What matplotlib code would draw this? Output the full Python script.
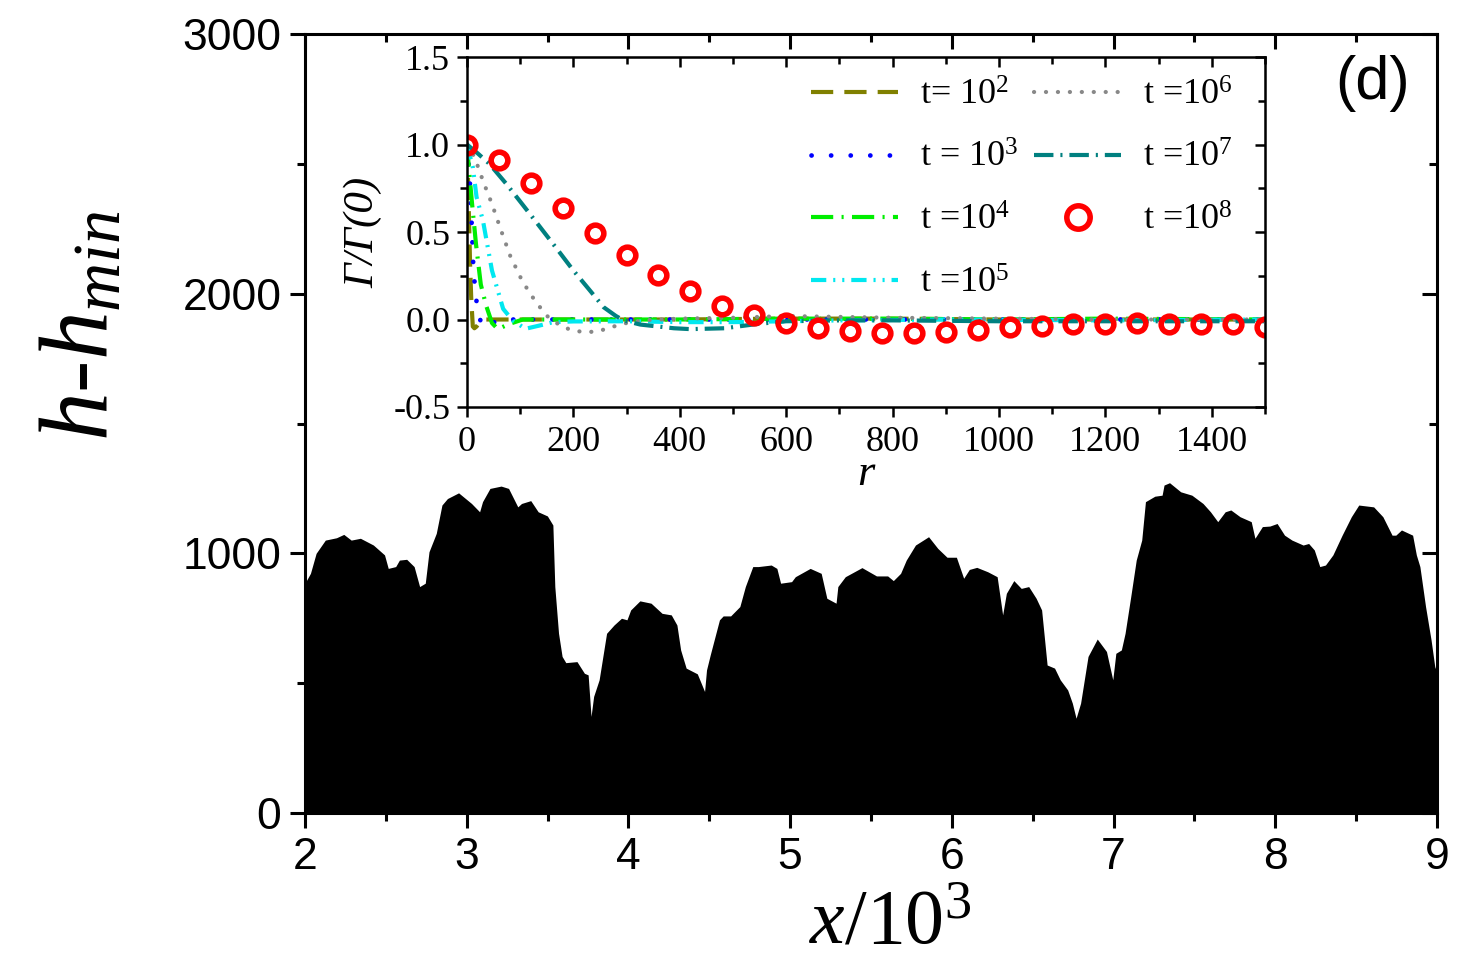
import numpy as np
import matplotlib
matplotlib.use("Agg")
import matplotlib.pyplot as plt
from matplotlib.ticker import MultipleLocator

plt.rcParams['font.family'] = ['Liberation Sans', 'DejaVu Sans']
plt.rcParams['mathtext.fontset'] = 'custom'
plt.rcParams['mathtext.rm'] = 'Liberation Serif'
plt.rcParams['mathtext.it'] = 'Liberation Serif:italic'
plt.rcParams['lines.scale_dashes'] = False

# surface profile h - h_min against x/10^3
x_prof = [2.0, 2.034, 2.069, 2.126, 2.195, 2.24, 2.286, 2.343, 2.423, 2.492, 2.515, 2.561,
          2.584, 2.629, 2.675, 2.709, 2.744, 2.767, 2.812, 2.847, 2.881, 2.95, 3.03, 3.08,
          3.098, 3.144, 3.213, 3.259, 3.316, 3.339, 3.396, 3.442, 3.499, 3.533, 3.545, 3.568,
          3.59, 3.613, 3.682, 3.728, 3.751, 3.769, 3.785, 3.819, 3.865, 3.911, 3.957, 3.991,
          4.014, 4.071, 4.14, 4.208, 4.265, 4.3, 4.323, 4.357, 4.426, 4.471, 4.483, 4.506,
          4.563, 4.586, 4.632, 4.689, 4.723, 4.769, 4.803, 4.883, 4.918, 4.941, 5.009, 5.032,
          5.124, 5.192, 5.227, 5.284, 5.295, 5.341, 5.444, 5.534, 5.603, 5.638, 5.683, 5.718,
          5.775, 5.856, 5.913, 5.97, 6.028, 6.073, 6.108, 6.154, 6.222, 6.28, 6.314, 6.337,
          6.383, 6.429, 6.475, 6.521, 6.555, 6.589, 6.635, 6.67, 6.716, 6.745, 6.768, 6.796,
          6.842, 6.899, 6.956, 6.995, 7.014, 7.048, 7.071, 7.106, 7.14, 7.174, 7.197, 7.255,
          7.3, 7.312, 7.346, 7.415, 7.484, 7.553, 7.599, 7.644, 7.69, 7.725, 7.782, 7.851,
          7.874, 7.92, 7.966, 8.011, 8.057, 8.103, 8.172, 8.206, 8.241, 8.275, 8.31, 8.356,
          8.413, 8.47, 8.516, 8.608, 8.665, 8.722, 8.745, 8.78, 8.849, 8.872, 8.894, 8.929,
          8.963, 8.986, 9.0]
h_prof = [885, 923, 1000, 1051, 1060, 1073, 1051, 1058, 1032, 994, 942, 949,
          974, 977, 949, 872, 885, 1006, 1077, 1186, 1211, 1233, 1192, 1160,
          1199, 1250, 1259, 1250, 1179, 1192, 1203, 1160, 1144, 1109, 872, 692,
          603, 579, 583, 538, 532, 372, 449, 513, 692, 724, 750, 744,
          782, 817, 808, 769, 763, 724, 628, 558, 536, 468, 551, 609,
          744, 759, 759, 795, 872, 949, 949, 955, 942, 885, 891, 910,
          942, 923, 827, 808, 872, 910, 945, 913, 913, 895, 923, 974,
          1032, 1064, 1019, 985, 985, 904, 938, 946, 929, 910, 763, 846,
          895, 865, 872, 827, 782, 570, 558, 513, 474, 423, 365, 423,
          603, 670, 622, 513, 615, 628, 692, 833, 974, 1051, 1199, 1220,
          1224, 1263, 1272, 1237, 1224, 1192, 1160, 1122, 1160, 1167, 1141, 1122,
          1058, 1103, 1105, 1115, 1070, 1051, 1032, 1038, 1013, 949, 955, 994,
          1070, 1141, 1186, 1179, 1141, 1070, 1070, 1090, 1070, 994, 949, 795,
          667, 564, 540]

# inset: correlation function Gamma/Gamma(0) against r
r_t2 = [0, 2, 4, 6, 8, 11, 14, 18, 25, 35, 60, 100, 200, 400, 600, 800, 1000, 1200, 1500]
g_t2 = [1.0, 0.8, 0.55, 0.3, 0.12, -0.04, -0.05, -0.04, -0.01, 0.0, 0.0, 0.0, 0.0, 0.0,
        0.005, 0.005, 0.0, 0.0, 0.0]
r_t3 = [0, 3, 6, 9, 12, 16, 20, 28, 42, 66, 100, 200, 400, 600, 800, 1000, 1200, 1500]
g_t3 = [1.0, 0.89, 0.756, 0.537, 0.3, 0.147, 0.06, -0.04, -0.025, 0.0, 0.0, 0.0, 0.0,
        0.0, 0.0, 0.0, 0.0, 0.0]
r_t4 = [0, 4, 9, 17, 26, 36, 47, 58, 80, 105, 200, 400, 600, 800, 1000, 1200, 1500]
g_t4 = [1.0, 0.85, 0.68, 0.43, 0.2, 0.08, -0.02, -0.055, -0.025, 0.0, 0.0, 0.0, 0.005,
        0.005, 0.0, 0.005, 0.0]
r_t5 = [0, 11, 18, 30, 47, 68, 86, 110, 137, 162, 200, 300, 400, 500, 600, 700, 900,
        1200, 1500]
g_t5 = [1.0, 0.87, 0.7, 0.566, 0.28, 0.061, -0.006, -0.053, -0.034, -0.015, -0.011,
        -0.01, -0.015, -0.015, -0.01, -0.005, 0.0, -0.005, 0.0]
r_t6 = [0, 14, 31, 47, 64, 81, 102, 117, 132, 151, 175, 198, 222, 244, 268, 291, 330,
        400, 500, 600, 800, 1000, 1200, 1500]
g_t6 = [1.0, 0.93, 0.785, 0.66, 0.51, 0.366, 0.232, 0.156, 0.09, 0.019, -0.034, -0.063,
        -0.072, -0.069, -0.048, -0.025, -0.005, 0.005, 0.01, 0.02, 0.01, 0.005, 0.0, 0.0]
r_t7 = [0, 20, 42, 74, 105, 137, 170, 200, 230, 257, 280, 295, 326, 389, 420, 484, 547,
        600, 700, 800, 1000, 1200, 1500]
g_t7 = [1.0, 0.95, 0.89, 0.775, 0.655, 0.53, 0.4, 0.28, 0.17, 0.07, 0.02, -0.006, -0.029,
        -0.05, -0.055, -0.05, -0.025, -0.01, -0.005, -0.005, -0.01, -0.01, -0.01]
r_t8 = [0, 60, 120, 180, 240, 300, 360, 420, 480, 540, 600, 660, 720, 780, 840, 900, 960,
        1020, 1080, 1140, 1200, 1260, 1320, 1380, 1440, 1500]
g_t8 = [1.0, 0.912, 0.779, 0.638, 0.497, 0.37, 0.255, 0.162, 0.08, 0.023, -0.02, -0.05,
        -0.064, -0.075, -0.075, -0.07, -0.06, -0.041, -0.037, -0.026, -0.026, -0.022,
        -0.026, -0.026, -0.027, -0.041]

fig = plt.figure(figsize=(14.57, 9.8), dpi=100)
ax = fig.add_axes([0.2093, 0.1704, 0.7770, 0.7949])

ax.fill_between(x_prof, 0, h_prof, color='black', lw=0)
ax.set_xlim(2, 9)
ax.set_ylim(0, 3000)
ax.xaxis.set_major_locator(MultipleLocator(1))
ax.xaxis.set_minor_locator(MultipleLocator(0.5))
ax.yaxis.set_major_locator(MultipleLocator(1000))
ax.yaxis.set_minor_locator(MultipleLocator(500))
for s in ax.spines.values():
    s.set_linewidth(2.2)
ax.tick_params(which='both', direction='out', width=2.2, labelsize=32)
ax.tick_params(which='major', length=11)
ax.tick_params(which='minor', length=6)
ax.tick_params(axis='x', pad=6)
ax.tick_params(axis='y', pad=6)

# top / right ticks point inwards
secx = ax.secondary_xaxis('top')
secx.xaxis.set_major_locator(MultipleLocator(1))
secx.xaxis.set_minor_locator(MultipleLocator(0.5))
secx.tick_params(which='both', direction='in', width=2.2, labeltop=False)
secx.tick_params(which='major', length=11)
secx.tick_params(which='minor', length=6)
secy = ax.secondary_yaxis('right')
secy.yaxis.set_major_locator(MultipleLocator(1000))
secy.yaxis.set_minor_locator(MultipleLocator(500))
secy.tick_params(which='both', direction='in', width=2.2, labelright=False)
secy.tick_params(which='major', length=11)
secy.tick_params(which='minor', length=6)

fig.text(0.057, 0.668, '$h$-$h_{min}$', rotation=90, ha='center', va='center',
         fontsize=70, family='Liberation Serif', style='italic')
fig.text(0.611, 0.058, r'$\mathit{x/10}^{3}$', ha='center', va='center', fontsize=56)
ax.text(0.943, 0.936, '(d)', transform=ax.transAxes, ha='center', va='center', fontsize=44)

# inset
ins = fig.add_axes([0.3205, 0.5847, 0.5477, 0.3571])
ins.plot(r_t2, g_t2, color='#808000', lw=3, linestyle=(0, (16, 8)), label='t= 10$^2$')
ins.plot(r_t3, g_t3, color='#0000ff', lw=3.4, linestyle=(0, (0.1, 14)),
         dash_capstyle='round', label='t = 10$^3$')
ins.plot(r_t4, g_t4, color='#00ee00', lw=3, linestyle=(0, (16, 6, 1.5, 6)),
         label='t =10$^4$')
ins.plot(r_t5, g_t5, color='#00e8f0', lw=3, linestyle=(0, (11, 5, 1.5, 5, 1.5, 5)),
         label='t =10$^5$')
ins.plot(r_t6, g_t6, color='#888888', lw=3, linestyle=(0, (0.1, 8.5)),
         dash_capstyle='round', label='t =10$^6$')
ins.plot(r_t7, g_t7, color='#008080', lw=3, linestyle=(0, (14, 5, 1.5, 5)),
         label='t =10$^7$')
ins.plot(r_t8, g_t8, linestyle='none', marker='o', ms=12, mfc='none', mec='#ff0000',
         mew=4, label='t =10$^8$')

ins.set_xlim(0, 1500)
ins.set_ylim(-0.5, 1.5)
ins.xaxis.set_major_locator(MultipleLocator(200))
ins.xaxis.set_minor_locator(MultipleLocator(100))
ins.yaxis.set_major_locator(MultipleLocator(0.5))
ins.yaxis.set_minor_locator(MultipleLocator(0.25))
ins.yaxis.set_major_formatter(matplotlib.ticker.FormatStrFormatter('%.1f'))
for s in ins.spines.values():
    s.set_linewidth(1.8)
ins.tick_params(which='both', direction='out', width=1.8, labelsize=26)
ins.tick_params(which='major', length=7)
ins.tick_params(which='minor', length=5)
ins.tick_params(axis='x', pad=7)
ins.tick_params(axis='y', pad=5)
for lab in ins.get_xticklabels() + ins.get_yticklabels():
    lab.set_family('Liberation Serif')

sx = ins.secondary_xaxis('top')
sx.xaxis.set_major_locator(MultipleLocator(200))
sx.xaxis.set_minor_locator(MultipleLocator(100))
sx.tick_params(which='both', direction='in', width=1.8, labeltop=False)
sx.tick_params(which='major', length=7)
sx.tick_params(which='minor', length=5)
sy = ins.secondary_yaxis('right')
sy.yaxis.set_major_locator(MultipleLocator(0.5))
sy.yaxis.set_minor_locator(MultipleLocator(0.25))
sy.tick_params(which='both', direction='in', width=1.8, labelright=False)
sy.tick_params(which='major', length=7)
sy.tick_params(which='minor', length=5)

ins.set_ylabel('Γ/Γ(0)', fontsize=31, family='Liberation Serif', style='italic', labelpad=8)
ins.set_xlabel('r', fontsize=32, family='Liberation Serif', style='italic', labelpad=-4)

ins.legend(loc='upper right', bbox_to_anchor=(1.0, 1.03), ncol=2, frameon=False,
           prop={'family': 'Liberation Serif', 'size': 26}, handlelength=2.4,
           handletextpad=0.6, columnspacing=0.45, labelspacing=0.82, markerscale=1.4)

fig.savefig('out.png', dpi=100)
